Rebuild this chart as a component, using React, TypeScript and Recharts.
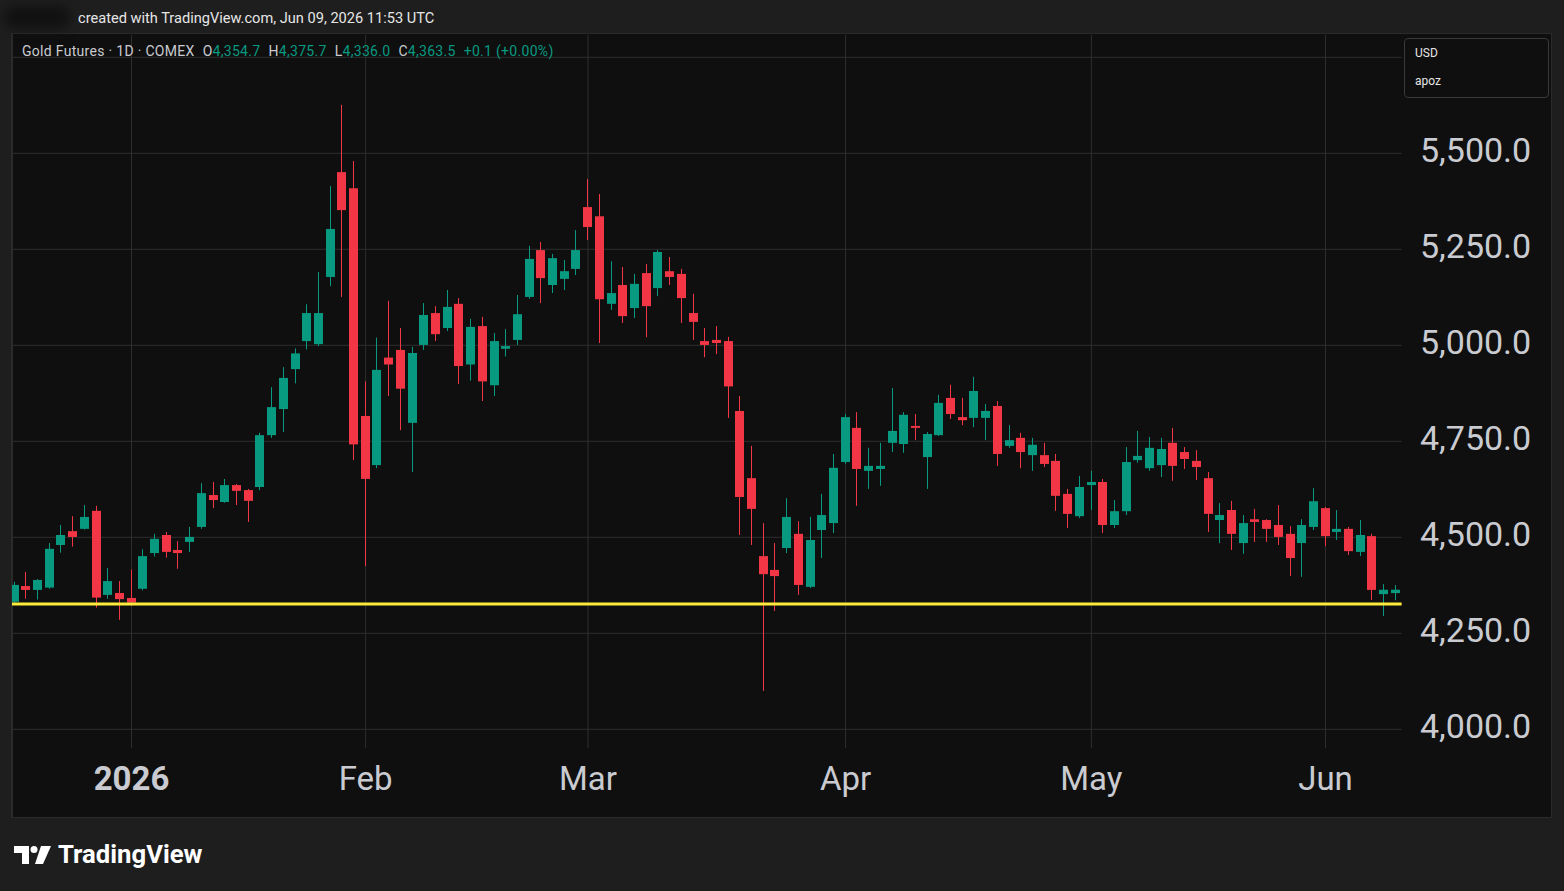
import { Bar, CartesianGrid, ComposedChart, ReferenceLine, XAxis, YAxis } from 'recharts';

const GREEN = '#089981';
const RED = '#f23645';
const FRAME = '#1e1e1e';
const PANEL = '#0f0f0f';
const GRID = '#2e2e2e';
const AXIS_TEXT = '#c9cbd1';
const FONT = 'Roboto, "Liberation Sans", sans-serif';

// trading days shown on the chart, by month
const dec2025 = [17, 18, 19, 22, 23, 24, 26, 29, 30, 31];
const jan2026 = [2, 5, 6, 7, 8, 9, 12, 13, 14, 15, 16, 20, 21, 22, 23, 26, 27, 28, 29, 30];
const feb2026 = [2, 3, 4, 5, 6, 9, 10, 11, 12, 13, 17, 18, 19, 20, 23, 24, 25, 26, 27];
const mar2026 = [2, 3, 4, 5, 6, 9, 10, 11, 12, 13, 16, 17, 18, 19, 20, 23, 24, 25, 26, 27, 30, 31];
const apr2026 = [1, 2, 6, 7, 8, 9, 10, 13, 14, 15, 16, 17, 20, 21, 22, 23, 24, 27, 28, 29, 30];
const may2026 = [1, 4, 5, 6, 7, 8, 11, 12, 13, 14, 15, 18, 19, 20, 21, 22, 26, 27, 28, 29];
const jun2026 = [1, 2, 3, 4, 5, 8, 9];

const opens = [
  4332, 4373, 4363, 4369, 4480, 4516, 4522, 4569, 4350, 4355,
  4342, 4366, 4459, 4506, 4467, 4488, 4527, 4610, 4592, 4636,
  4623, 4631, 4766, 4834, 4938, 5011, 5003, 5178, 5451, 5409,
  4816, 4688, 4968, 4988, 4798, 5001, 5084, 5045, 5108, 4950,
  5050, 4896, 4991, 5014, 5126, 5248, 5157, 5173, 5199, 5360,
  5336, 5108, 5157, 5097, 5188, 5149, 5193, 5186, 5084, 5011,
  5014, 5011, 4829, 4654, 4451, 4415, 4472, 4509, 4371, 4519,
  4537, 4696, 4785, 4673, 4678, 4746, 4743, 4790, 4709, 4766,
  4863, 4813, 4811, 4811, 4842, 4738, 4759, 4714, 4714, 4699,
  4613, 4555, 4636, 4644, 4532, 4568, 4701, 4680, 4688, 4746,
  4722, 4699, 4654, 4545, 4571, 4485, 4547, 4545, 4532, 4509,
  4485, 4527, 4576, 4514, 4522, 4462, 4503, 4352, 4354.7,
];
const highs = [
  4384, 4410, 4391, 4485, 4532, 4555, 4584, 4582, 4420, 4386,
  4416, 4469, 4509, 4514, 4490, 4527, 4641, 4644, 4652, 4639,
  4626, 4772, 4891, 4943, 4992, 5107, 5191, 5415, 5626, 5480,
  4906, 5020, 5116, 5045, 4996, 5110, 5102, 5144, 5123, 5069,
  5074, 5032, 5042, 5131, 5259, 5269, 5238, 5222, 5300, 5433,
  5394, 5219, 5204, 5186, 5212, 5248, 5230, 5199, 5134, 5045,
  5050, 5022, 4868, 4738, 4537, 4485, 4602, 4542, 4553, 4613,
  4717, 4821, 4826, 4733, 4746, 4889, 4826, 4821, 4774, 4871,
  4897, 4863, 4918, 4847, 4855, 4792, 4772, 4759, 4746, 4717,
  4626, 4660, 4673, 4652, 4597, 4735, 4777, 4761, 4759, 4785,
  4735, 4727, 4670, 4589, 4595, 4558, 4574, 4547, 4584, 4529,
  4547, 4628, 4579, 4571, 4527, 4545, 4509, 4378, 4375.7,
];
const lows = [
  4328, 4340, 4338, 4366, 4460, 4476, 4520, 4317, 4340, 4285,
  4321, 4362, 4450, 4447, 4418, 4462, 4522, 4576, 4590, 4584,
  4540, 4623, 4759, 4774, 4901, 4989, 4998, 5154, 5126, 4701,
  4425, 4680, 4868, 4779, 4670, 4988, 5011, 5037, 4899, 4908,
  4855, 4868, 4971, 5001, 5121, 5110, 5136, 5144, 5183, 5274,
  5006, 5092, 5058, 5071, 5021, 5128, 5157, 5058, 5014, 4969,
  4977, 4811, 4506, 4480, 4100, 4308, 4459, 4350, 4368, 4446,
  4511, 4691, 4582, 4626, 4634, 4722, 4720, 4753, 4626, 4764,
  4808, 4792, 4787, 4753, 4686, 4733, 4680, 4673, 4683, 4569,
  4524, 4550, 4571, 4511, 4524, 4558, 4694, 4673, 4657, 4647,
  4678, 4649, 4514, 4485, 4467, 4457, 4488, 4488, 4480, 4399,
  4397, 4519, 4477, 4493, 4454, 4451, 4337, 4295, 4336.0,
];
const closes = [
  4376, 4363, 4389, 4470, 4506, 4501, 4553, 4343, 4386, 4339,
  4330, 4451, 4496, 4462, 4459, 4501, 4615, 4597, 4636, 4621,
  4595, 4766, 4839, 4915, 4979, 5084, 5084, 5303, 5352, 4742,
  4652, 4936, 4950, 4887, 4980, 5079, 5029, 5100, 4946, 5048,
  4906, 5011, 4998, 5081, 5225, 5175, 5227, 5193, 5248, 5308,
  5120, 5136, 5076, 5160, 5102, 5243, 5178, 5123, 5061, 5001,
  5006, 4893, 4605, 4574, 4404, 4399, 4553, 4376, 4493, 4558,
  4681, 4813, 4678, 4686, 4686, 4777, 4819, 4785, 4769, 4850,
  4821, 4805, 4881, 4829, 4717, 4753, 4722, 4741, 4691, 4608,
  4561, 4631, 4644, 4532, 4568, 4696, 4712, 4733, 4730, 4686,
  4704, 4683, 4561, 4558, 4509, 4537, 4540, 4522, 4501, 4446,
  4532, 4594, 4503, 4522, 4464, 4506, 4363, 4363.4, 4363.5,
];

// 5,750 has a gridline, but its label sits under the currency box
const priceTicks = [4000, 4250, 4500, 4750, 5000, 5250, 5500, 5750];
const hiddenPriceLabel = 5750;
const monthTicks = ['2026-01-02', '2026-02-02', '2026-03-02', '2026-04-01', '2026-05-01', '2026-06-01'];
const monthLabels = ['2026', 'Feb', 'Mar', 'Apr', 'May', 'Jun'];
const supportLevel = 4326;

const pad = (n: number) => String(n).padStart(2, '0');
const dates = [
  ...dec2025.map((d) => `2025-12-${pad(d)}`),
  ...jan2026.map((d) => `2026-01-${pad(d)}`),
  ...feb2026.map((d) => `2026-02-${pad(d)}`),
  ...mar2026.map((d) => `2026-03-${pad(d)}`),
  ...apr2026.map((d) => `2026-04-${pad(d)}`),
  ...may2026.map((d) => `2026-05-${pad(d)}`),
  ...jun2026.map((d) => `2026-06-${pad(d)}`),
];

const candles = dates.map((date, i) => ({
  date,
  open: opens[i],
  high: highs[i],
  low: lows[i],
  close: closes[i],
}));

const Candle = (props: any) => {
  const { x, y, width, height, payload } = props;
  if (!payload) return null;
  const top = height < 0 ? y + height : y;
  const span = Math.abs(height);
  const k = span / (payload.high - payload.low);
  const color = payload.close >= payload.open ? GREEN : RED;
  const bodyTop = top + (payload.high - Math.max(payload.open, payload.close)) * k;
  const bodyH = Math.max(1, Math.abs(payload.close - payload.open) * k);
  const left = Math.round(x);
  const w = Math.round(width);
  const cx = left + Math.floor(w / 2) + 0.5;
  return (
    <g>
      <line x1={cx} x2={cx} y1={top} y2={top + span} stroke={color} strokeWidth={1} />
      <rect x={left} y={bodyTop} width={w} height={bodyH} fill={color} />
    </g>
  );
};

const TimeTick = ({ x, y, payload }: any) => {
  const label = monthLabels[monthTicks.indexOf(payload.value)] ?? '';
  return (
    <text
      x={x}
      y={y}
      dy="0.71em"
      textAnchor="middle"
      fill={AXIS_TEXT}
      fontSize={33}
      fontFamily={FONT}
      fontWeight={label === '2026' ? 700 : 400}
    >
      {label}
    </text>
  );
};

const fmtPrice = (v: number) =>
  v.toLocaleString('en-US', { minimumFractionDigits: 1, maximumFractionDigits: 1 });

const PriceTick = ({ x, y, payload }: any) => {
  if (payload.value === hiddenPriceLabel) return <g />;
  return (
    <text x={x - 2} y={y - 3} dy="0.355em" textAnchor="start" fill={AXIS_TEXT} fontSize={34} fontFamily={FONT}>
      {fmtPrice(payload.value)}
    </text>
  );
};

const TvLogo = () => (
  <svg width={38} height={20} viewBox="0 0 38 20" style={{ position: 'absolute', left: 14, top: 845 }}>
    <path d="M0 1h15v18h-7v-11h-8z" fill="#ffffff" />
    <circle cx={20} cy={4.5} r={3.5} fill="#ffffff" />
    <path d="M27 1h10l-8 18h-8z" fill="#ffffff" />
  </svg>
);

export default function App() {
  return (
    <div
      style={{
        position: 'fixed',
        left: 0,
        top: 0,
        width: 1564,
        height: 891,
        background: FRAME,
        overflow: 'hidden',
        fontFamily: FONT,
      }}
    >
      <div
        style={{
          position: 'absolute',
          left: 12,
          top: 33,
          width: 1540,
          height: 785,
          background: PANEL,
          boxSizing: 'border-box',
          border: '1px solid #2a2a2a',
        }}
      />
      <div style={{ position: 'absolute', left: 0, top: 0 }}>
        <ComposedChart
          width={1564}
          height={891}
          data={candles}
          margin={{ top: 35, right: 12, bottom: 73, left: 8.6 }}
        >
          <CartesianGrid stroke={GRID} syncWithTicks />
          <XAxis
            dataKey="date"
            ticks={monthTicks}
            interval={0}
            height={70}
            tickLine={false}
            axisLine={false}
            tickSize={0}
            tickMargin={19}
            tick={<TimeTick />}
          />
          <YAxis
            orientation="right"
            width={150.4}
            domain={[3951.3, 5808.1]}
            ticks={priceTicks}
            interval={0}
            allowDataOverflow
            tickLine={false}
            axisLine={false}
            tickSize={0}
            tickMargin={20.4}
            tick={<PriceTick />}
          />
          <Bar
            dataKey={(d: any) => [d.low, d.high]}
            barSize={9}
            shape={<Candle />}
            isAnimationActive={false}
          />
          <ReferenceLine y={supportLevel} stroke="#ffeb3b" strokeWidth={3} />
        </ComposedChart>
      </div>
      {/* left frame strip clips the first candle like the original */}
      <div
        style={{
          position: 'absolute',
          left: 0,
          top: 33,
          width: 12,
          height: 785,
          background: FRAME,
          borderRight: '1px solid #2a2a2a',
          boxSizing: 'border-box',
        }}
      />
      <div style={{ position: 'absolute', left: 0, top: 0, width: 1564, height: 33, background: FRAME }} />
      {/* blurred author name */}
      <div
        style={{
          position: 'absolute',
          left: 4,
          top: 6,
          width: 66,
          height: 22,
          background: '#111111',
          borderRadius: 11,
          filter: 'blur(6px)',
        }}
      />
      <div
        style={{
          position: 'absolute',
          left: 78,
          top: 9,
          fontSize: 14.6,
          color: '#e6e6e6',
          whiteSpace: 'nowrap',
        }}
      >
        created with TradingView.com, Jun 09, 2026 11:53 UTC
      </div>
      <div
        style={{
          position: 'absolute',
          left: 22,
          top: 43,
          fontSize: 14,
          color: '#c9cbd1',
          whiteSpace: 'nowrap',
          letterSpacing: 0.3,
        }}
      >
        Gold Futures · 1D · COMEX
        <span style={{ marginLeft: 8 }}>O</span>
        <span style={{ color: GREEN }}>4,354.7</span>
        <span style={{ marginLeft: 8 }}>H</span>
        <span style={{ color: GREEN }}>4,375.7</span>
        <span style={{ marginLeft: 8 }}>L</span>
        <span style={{ color: GREEN }}>4,336.0</span>
        <span style={{ marginLeft: 8 }}>C</span>
        <span style={{ color: GREEN }}>4,363.5</span>
        <span style={{ color: GREEN, marginLeft: 8 }}>+0.1 (+0.00%)</span>
      </div>
      <div
        style={{
          position: 'absolute',
          left: 1404,
          top: 38,
          width: 145,
          height: 60,
          boxSizing: 'border-box',
          border: '1px solid #3a3a3a',
          borderRadius: 4,
          background: PANEL,
          color: '#e6e6e6',
          fontSize: 12,
        }}
      >
        <div style={{ position: 'absolute', left: 10, top: 7 }}>USD</div>
        <div style={{ position: 'absolute', left: 10, top: 35 }}>apoz</div>
      </div>
      <TvLogo />
      <div
        style={{
          position: 'absolute',
          left: 58,
          top: 839,
          fontSize: 25.7,
          fontWeight: 700,
          color: '#ffffff',
          whiteSpace: 'nowrap',
        }}
      >
        TradingView
      </div>
    </div>
  );
}
